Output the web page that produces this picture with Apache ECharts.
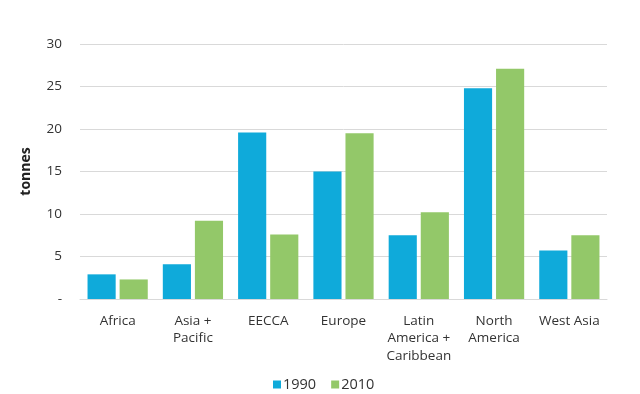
<!DOCTYPE html>
<html>
<head>
<meta charset="utf-8">
<script src="https://cdn.jsdelivr.net/npm/echarts@6/dist/echarts.min.js"></script>
<style>html,body{margin:0;padding:0;background:#fff;}#c{width:640px;height:394px;}</style>
</head>
<body>
<div id="c"></div>
<script>
var categories = ['Africa', 'Asia +\nPacific', 'EECCA', 'Europe', 'Latin\nAmerica +\nCaribbean', 'North\nAmerica', 'West Asia'];
var values1990 = [2.9, 4.1, 19.6, 15.0, 7.5, 24.8, 5.7];
var values2010 = [2.3, 9.2, 7.6, 19.5, 10.2, 27.1, 7.5];
var seriesNames = ['1990', '2010'];

var chart = echarts.init(document.getElementById('c'), null, {renderer: 'canvas'});
var font = '"Open Sans", "Noto Sans", sans-serif';
chart.setOption({
  animation: false,
  textStyle: {fontFamily: font},
  grid: {left: 80, right: 33, top: 44, bottom: 95, containLabel: false},
  legend: {
    data: seriesNames,
    top: 372,
    left: 268,
    itemWidth: 8, itemHeight: 8, itemGap: 15,
    icon: 'rect',
    textStyle: {fontFamily: font, fontSize: 14.5, color: '#333', padding: [0, 0, 0, -3]}
  },
  xAxis: {
    type: 'category',
    data: categories,
    axisTick: {show: false},
    axisLine: {lineStyle: {color: '#d9d9d9', width: 1}},
    axisLabel: {color: '#333', fontSize: 13.5, lineHeight: 17.5, margin: 13, interval: 0, fontFamily: font}
  },
  yAxis: {
    type: 'value',
    min: 0, max: 30, interval: 5,
    name: 'tonnes',
    nameLocation: 'middle',
    nameGap: 47,
    nameRotate: 90,
    nameTextStyle: {fontWeight: 'bold', fontSize: 14, color: '#222', fontFamily: font},
    axisLine: {show: false},
    axisTick: {show: false},
    splitLine: {lineStyle: {color: '#d9d9d9', width: 1}},
    axisLabel: {
      color: '#333', fontSize: 13.5, margin: 18, fontFamily: font,
      formatter: function (v) { return v === 0 ? '-' : String(v); }
    }
  },
  series: [
    {name: seriesNames[0], type: 'bar', data: values1990, barGap: '14%', barCategoryGap: '20%', itemStyle: {color: '#0FAADA'}},
    {name: seriesNames[1], type: 'bar', data: values2010, itemStyle: {color: '#93C869'}}
  ]
});
</script>
</body>
</html>
